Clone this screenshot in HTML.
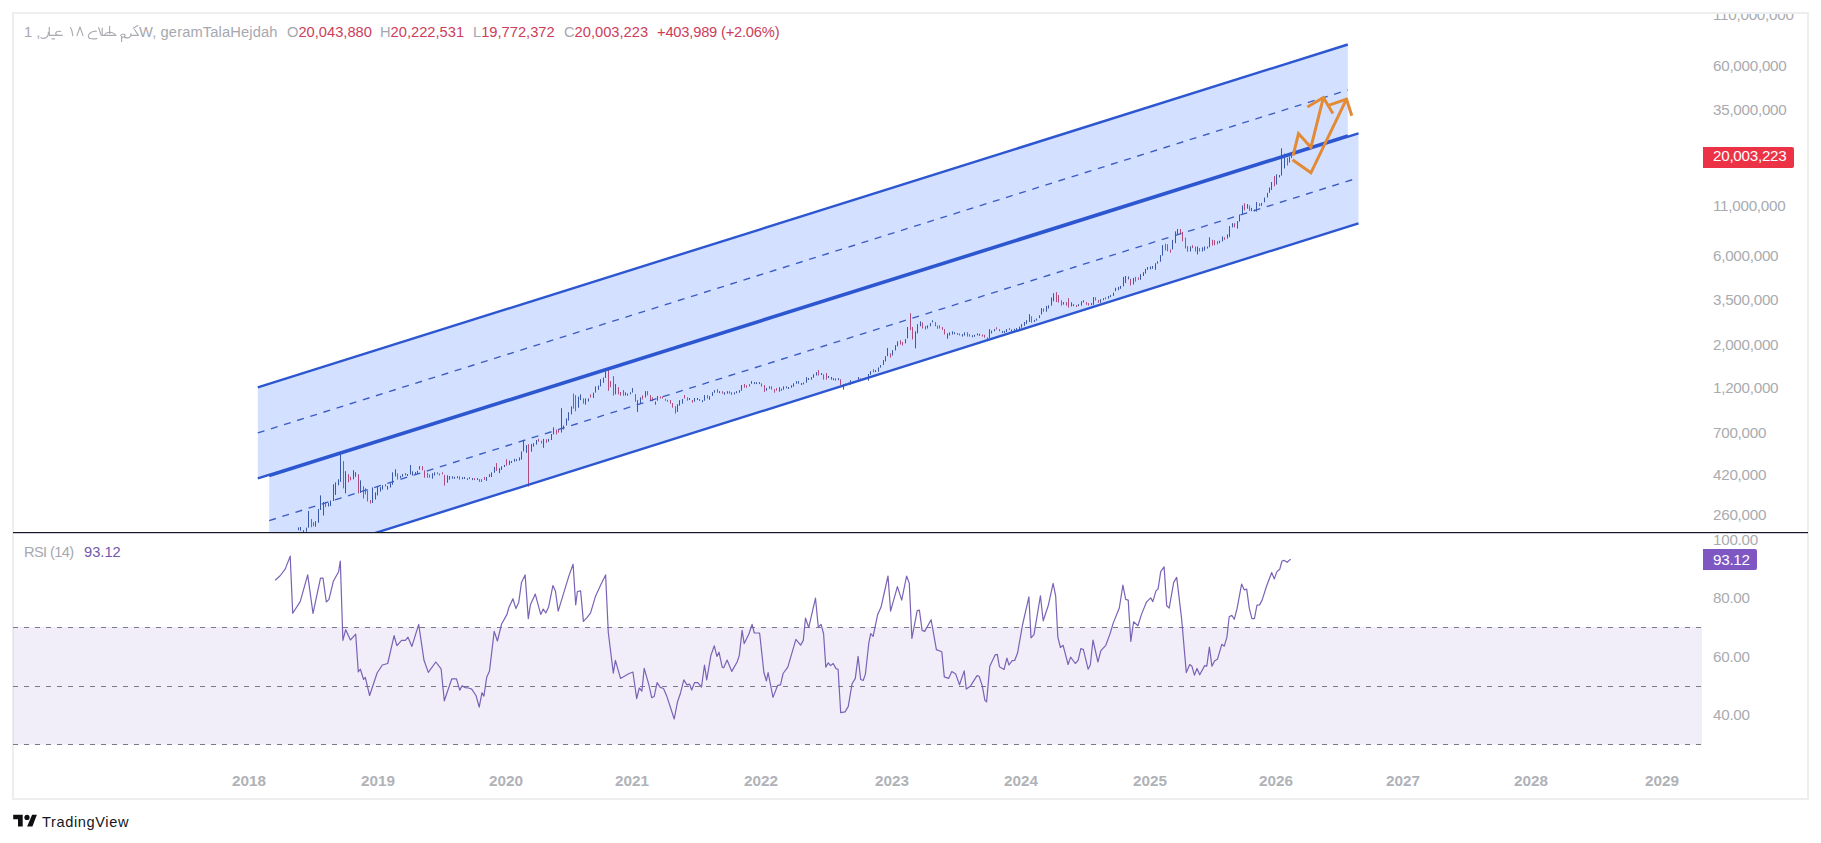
<!DOCTYPE html>
<html><head><meta charset="utf-8">
<style>
html,body{margin:0;padding:0;background:#fff;}
body{width:1821px;height:843px;position:relative;overflow:hidden;font-family:"Liberation Sans",sans-serif;}
.frame{position:absolute;left:12px;top:12px;width:1793px;height:784px;border:2px solid #eeeef1;}
.ch{position:absolute;left:0;top:0;}
.t{position:absolute;white-space:nowrap;font-size:14.7px;line-height:1;}
.g{color:#a6a8ae;}
.r{color:#cc3d5b;}
.ax{position:absolute;white-space:nowrap;font-size:15.2px;letter-spacing:-0.25px;line-height:1;color:#a9abb0;}
.yr{position:absolute;white-space:nowrap;font-size:15.3px;line-height:1;color:#b0b2b7;font-weight:bold;}
.badge{position:absolute;color:#fff;font-size:15.2px;letter-spacing:-0.25px;line-height:1;}
.clip{position:absolute;left:1700px;top:14px;width:107px;height:30px;overflow:hidden;}
</style></head><body>
<div class="frame"></div>

<svg class="ch" width="1821" height="843" viewBox="0 0 1821 843">
<defs>
<clipPath id="cp"><rect x="13" y="13" width="1689" height="519"/></clipPath>
<clipPath id="cr"><rect x="13" y="533" width="1689" height="227"/></clipPath>
</defs>
<g clip-path="url(#cp)">
<path d="M298.5 527.4V530.2M300.5 527.0V530.7M303.5 530.2V532.2M306.5 527.7V531.7M308.5 511.0V527.7M315.5 521.2V526.7M318.5 509.0V522.7M320.5 495.4V510.0M323.5 502.0V515.6M328.5 503.0V506.5M330.5 500.5V506.0M333.5 484.3V501.0M335.5 482.3V495.0M338.5 479.3V485.3M340.5 454.6V481.8M345.5 471.2V493.4M353.5 470.2V479.3M355.5 472.2V476.8M360.5 480.3V492.9M372.5 487.4V503.0M375.5 492.4V499.5M377.5 486.3V495.4M380.5 487.1V491.6M382.5 485.2V489.6M387.5 485.9V489.6M390.5 483.2V487.6M392.5 472.3V484.7M395.5 469.3V476.5M400.5 475.8V478.2M402.5 474.0V476.7M405.5 473.3V475.3M407.5 474.0V476.0M410.5 465.1V474.5M412.5 471.3V475.5M415.5 472.1V474.1M417.5 470.8V473.8M419.5 466.1V469.6M432.5 473.3V478.7M434.5 472.3V475.5M447.5 475.3V482.7M449.5 476.0V479.7M452.5 476.3V478.7M454.5 476.8V478.8M457.5 476.3V478.3M462.5 477.2V479.2M464.5 477.0V479.0M472.5 478.1V480.1M477.5 478.1V480.1M486.5 477.0V480.9M489.5 474.2V477.0M491.5 472.4V477.0M494.5 467.0V472.7M499.5 468.1V473.1M501.5 466.3V469.9M504.5 464.9V467.0M509.5 460.6V464.9M511.5 461.0V463.0M514.5 458.8V461.7M516.5 459.2V461.2M519.5 457.4V460.6M521.5 451.4V459.6M523.5 440.3V451.4M526.5 445.0V452.8M531.5 443.9V451.7M533.5 443.2V446.7M536.5 440.0V444.6M543.5 438.9V447.8M548.5 438.9V441.8M551.5 434.0V440.0M553.5 427.3V434.4M561.5 408.2V432.6M563.5 425.5V429.5M566.5 418.4V425.5M568.5 412.2V420.6M571.5 406.4V414.4M578.5 396.6V407.7M580.5 394.4V400.1M585.5 398.4V404.6M588.5 398.4V401.5M593.5 392.6V397.9M595.5 386.4V392.6M598.5 385.5V389.9M600.5 379.2V386.4M603.5 377.5V382.8M605.5 371.2V377.9M615.5 384.1V394.4M625.5 392.3V395.5M627.5 393.6V395.6M630.5 392.3V394.3M632.5 388.1V392.6M637.5 400.2V411.9M640.5 397.3V403.7M645.5 391.1V397.5M655.5 401.5V404.7M657.5 396.0V400.7M677.5 404.2V411.9M679.5 400.2V405.7M682.5 399.0V403.7M689.5 398.0V400.0M694.5 398.0V401.7M697.5 398.0V400.0M702.5 400.2V402.2M704.5 395.1V400.7M709.5 396.1V399.8M712.5 392.2V395.9M714.5 390.2V392.7M719.5 391.2V393.2M724.5 392.2V394.7M727.5 391.2V393.7M734.5 392.4V394.4M736.5 391.2V393.2M739.5 390.2V392.7M741.5 385.0V390.7M749.5 384.3V386.3M751.5 381.1V383.8M754.5 382.1V384.1M756.5 382.1V384.1M759.5 382.1V384.1M766.5 388.0V390.7M769.5 386.3V388.7M779.5 387.2V391.7M781.5 388.7V390.7M783.5 386.3V389.7M786.5 386.3V388.3M788.5 387.0V389.0M791.5 385.3V387.7M793.5 383.3V386.7M796.5 381.2V383.7M798.5 381.2V383.7M801.5 383.0V385.0M803.5 382.4V384.4M806.5 377.2V382.7M808.5 378.0V380.0M811.5 377.2V379.7M813.5 374.3V377.7M816.5 372.1V375.5M821.5 373.0V375.0M828.5 376.0V378.0M831.5 377.0V379.7M833.5 378.2V380.2M835.5 378.5V380.5M838.5 378.2V380.2M843.5 384.2V389.6M848.5 382.7V384.7M850.5 380.2V384.7M853.5 381.2V383.2M855.5 381.0V383.0M858.5 377.0V379.7M865.5 377.7V379.7M868.5 374.0V380.7M870.5 371.1V374.8M875.5 370.1V372.1M878.5 367.4V371.8M880.5 365.1V367.6M883.5 360.1V365.0M885.5 356.2V361.5M887.5 348.0V356.2M892.5 350.2V355.5M895.5 345.2V350.5M897.5 341.3V346.3M905.5 339.1V343.4M907.5 327.0V338.4M915.5 331.3V348.4M917.5 324.2V333.4M920.5 321.4V326.3M927.5 325.3V328.5M930.5 323.1V326.3M932.5 320.3V322.4M947.5 333.4V338.7M949.5 332.3V335.5M952.5 331.3V334.5M954.5 332.2V334.2M962.5 334.1V336.6M964.5 332.3V335.5M972.5 335.2V337.2M974.5 334.8V336.8M977.5 333.4V335.4M979.5 333.8V335.8M989.5 329.1V338.0M991.5 330.6V333.4M994.5 329.1V331.3M1002.5 330.9V332.9M1004.5 330.9V332.9M1006.5 329.1V332.0M1011.5 329.5V331.5M1014.5 328.8V330.8M1016.5 328.1V330.1M1019.5 326.6V329.1M1021.5 324.1V327.7M1024.5 322.0V325.9M1026.5 320.2V323.8M1029.5 314.2V322.0M1034.5 319.9V321.9M1036.5 318.5V320.6M1039.5 315.2V318.1M1041.5 308.1V314.5M1046.5 306.0V311.7M1048.5 305.3V308.5M1051.5 297.5V305.6M1053.5 293.2V301.4M1063.5 302.1V304.6M1071.5 302.3V306.5M1073.5 304.2V306.2M1078.5 304.2V306.2M1081.5 301.2V305.6M1083.5 300.3V302.4M1091.5 303.1V305.1M1093.5 297.1V304.9M1100.5 299.2V302.8M1103.5 298.2V300.2M1108.5 296.0V298.7M1110.5 295.1V297.1M1113.5 292.6V295.9M1115.5 287.8V291.2M1118.5 286.9V290.2M1120.5 285.9V288.8M1123.5 276.9V286.4M1125.5 276.0V283.1M1128.5 276.5V279.3M1133.5 277.9V284.5M1140.5 274.1V279.8M1143.5 272.2V276.0M1145.5 268.9V273.6M1147.5 267.0V269.8M1150.5 266.5V269.3M1152.5 266.0V268.8M1155.5 263.2V269.8M1157.5 261.3V263.6M1160.5 255.1V261.7M1162.5 245.1V255.6M1172.5 239.9V249.4M1175.5 231.4V243.2M1177.5 229.0V234.2M1190.5 246.5V251.5M1197.5 246.5V254.4M1202.5 247.3V251.5M1204.5 246.5V250.6M1207.5 246.6V248.6M1209.5 237.3V247.3M1219.5 240.7V243.2M1222.5 236.5V241.5M1227.5 234.4V238.6M1229.5 226.1V236.9M1232.5 223.2V227.4M1237.5 221.1V228.6M1239.5 214.5V221.6M1242.5 205.4V214.1M1247.5 204.1V208.7M1251.5 207.9V211.2M1254.5 209.5V211.5M1256.5 202.0V211.6M1261.5 202.9V205.8M1264.5 197.6V202.3M1267.5 192.8V197.6M1269.5 187.5V192.8M1271.5 182.0V190.0M1276.5 174.4V184.5M1279.5 175.0V177.4M1281.5 148.3V175.6M1284.5 153.6V168.5M1289.5 156.6V162.5M1291.5 156.0V158.0" stroke="#3d5594" stroke-width="1" fill="none"/>
<path d="M311.5 519.1V527.2M313.5 522.2V526.2M325.5 502.0V507.0M343.5 461.1V488.4M348.5 474.2V482.3M350.5 476.8V480.3M358.5 474.2V493.4M363.5 486.3V498.5M365.5 488.3V494.4M367.5 490.4V501.5M370.5 500.0V503.5M385.5 484.2V486.6M397.5 473.3V479.7M422.5 466.1V470.3M424.5 470.3V477.7M427.5 472.8V477.7M429.5 474.5V477.7M437.5 472.3V474.3M439.5 473.5V475.5M442.5 472.3V474.3M444.5 474.8V485.6M459.5 476.3V479.7M467.5 478.1V480.1M469.5 477.0V479.1M474.5 478.1V480.1M479.5 479.1V482.0M481.5 479.1V482.0M484.5 477.0V479.9M496.5 463.1V471.0M506.5 459.2V465.6M528.5 444.2V486.6M538.5 438.9V441.8M541.5 440.7V443.5M546.5 439.3V442.8M556.5 429.5V434.4M558.5 429.5V432.6M573.5 393.5V408.6M575.5 395.2V411.3M583.5 398.4V403.7M590.5 394.4V397.5M608.5 369.9V390.8M610.5 381.0V387.2M613.5 376.1V395.7M618.5 387.2V394.4M620.5 392.0V395.7M623.5 390.0V395.7M635.5 394.1V401.7M642.5 395.3V399.5M647.5 391.1V395.3M650.5 395.1V400.7M652.5 397.3V401.2M660.5 396.3V398.5M662.5 396.5V398.5M665.5 398.8V400.8M667.5 399.8V401.8M670.5 400.0V403.7M672.5 403.0V407.7M675.5 406.2V413.6M684.5 395.1V398.5M687.5 397.3V400.7M692.5 400.0V402.7M699.5 399.0V401.0M707.5 395.1V398.5M717.5 389.2V392.7M722.5 391.2V393.7M729.5 391.2V393.7M731.5 392.2V394.9M744.5 384.0V387.7M746.5 385.3V387.7M761.5 383.3V386.7M764.5 385.0V391.9M771.5 386.3V389.7M774.5 389.2V392.7M776.5 388.2V390.7M818.5 370.1V375.5M823.5 374.3V379.7M826.5 373.0V379.7M840.5 379.2V385.2M845.5 383.4V385.4M860.5 378.2V380.2M863.5 378.2V380.2M873.5 369.1V372.3M890.5 353.4V357.6M900.5 340.2V344.5M902.5 342.0V345.5M910.5 313.2V330.2M912.5 327.0V339.5M922.5 322.4V328.5M925.5 326.0V329.5M935.5 322.1V326.3M937.5 325.6V328.8M939.5 325.3V328.5M942.5 327.0V329.9M944.5 329.1V334.5M957.5 333.0V335.0M959.5 333.4V335.5M967.5 332.3V336.6M969.5 334.1V336.6M982.5 334.5V336.5M984.5 334.8V337.7M987.5 337.3V339.3M996.5 327.3V329.5M999.5 329.1V331.3M1009.5 328.1V330.2M1031.5 316.3V322.7M1043.5 308.5V311.7M1056.5 292.1V302.1M1058.5 295.1V302.6M1061.5 300.3V305.6M1066.5 302.1V305.6M1068.5 298.2V307.6M1076.5 305.0V307.0M1086.5 302.1V304.8M1088.5 303.1V305.6M1095.5 297.3V300.5M1098.5 300.1V302.8M1105.5 297.3V299.3M1130.5 278.8V285.5M1135.5 276.9V281.7M1138.5 277.4V279.8M1165.5 243.7V250.4M1167.5 244.2V251.3M1170.5 249.4V252.7M1180.5 229.0V234.2M1182.5 231.9V241.3M1185.5 237.6V248.5M1187.5 246.1V251.8M1192.5 245.2V248.1M1195.5 246.5V251.5M1199.5 248.1V251.5M1212.5 239.8V245.6M1214.5 240.2V245.2M1217.5 241.1V244.4M1224.5 237.3V239.8M1234.5 223.2V227.4M1244.5 203.3V210.3M1249.5 205.4V210.8M1259.5 203.3V206.2M1274.5 176.0V186.3M1287.5 157.8V165.5" stroke="#d2485e" stroke-width="1" fill="none"/>
<polygon points="257.8,387.4 1347.8,44.5 1347.8,135.5 257.8,478.4" fill="rgba(41,98,255,0.2)"/>
<polygon points="269.2,474.8 1358.5,132.2 1358.5,223.3 269.2,566.4" fill="rgba(41,98,255,0.2)"/>
<g stroke="#2d57d0" stroke-width="2.4" fill="none">
<line x1="257.8" y1="387.4" x2="1347.8" y2="44.5"/>
<line x1="257.8" y1="478.4" x2="1347.8" y2="135.5"/>
<line x1="269.2" y1="476.0" x2="1358.5" y2="133.4"/>
<line x1="269.2" y1="566.4" x2="1358.5" y2="223.3"/>
</g>
<g stroke="#3b5cc4" stroke-width="1.35" fill="none" stroke-dasharray="7 6.76">
<line x1="257.8" y1="432.9" x2="1347.8" y2="90"/>
<line x1="269.2" y1="520.6" x2="1358.5" y2="177.75"/>
</g>
<g stroke="#e38a35" stroke-width="3" fill="none" stroke-linejoin="miter" stroke-linecap="butt">
<polyline points="1293.1,155.6 1298.5,133.6 1310.9,147.3 1323.4,97.5"/>
<polyline points="1307.4,107 1323.4,97.5 1332.9,113.5"/>
<polyline points="1292.5,159.7 1310.9,172.8 1346.5,99.2"/>
<polyline points="1329.3,105.2 1346.5,99.2 1351.8,115.8"/>
</g>
</g>
<rect x="13" y="627" width="1689" height="117.5" fill="rgba(126,87,194,0.1)"/>
<g stroke="#787b86" stroke-width="1" stroke-dasharray="5 6">
<line x1="13" y1="627.5" x2="1702" y2="627.5"/>
<line x1="13" y1="686.5" x2="1702" y2="686.5"/>
<line x1="13" y1="744.5" x2="1702" y2="744.5"/>
</g>
<g clip-path="url(#cr)">
<path d="M275.2 580.2 L279.9 576.0 L285.3 568.9 L290.2 556.1 L292.7 613.3 L300.2 601.6 L307.7 574.9 L313.0 613.3 L320.5 578.1 L323.0 578.1 L326.3 602.0 L329.0 599.4 L333.3 581.3 L338.6 571.7 L340.3 561.0 L342.9 640.4 L345.7 629.7 L350.4 640.0 L355.7 634.2 L358.3 672.0 L360.4 669.2 L363.6 679.5 L365.3 677.3 L369.6 695.5 L377.1 673.0 L382.4 665.0 L387.7 663.5 L394.1 635.7 L396.9 645.7 L401.6 640.4 L405.4 640.4 L408.0 637.2 L411.9 646.4 L418.7 624.4 L424.0 660.3 L428.3 672.4 L435.8 662.0 L441.1 668.8 L444.3 700.8 L451.8 678.8 L456.5 678.8 L459.7 690.1 L462.1 685.9 L465.3 687.6 L468.5 688.0 L471.7 689.1 L476.0 695.5 L479.2 707.2 L482.0 692.7 L483.9 696.1 L486.7 677.3 L489.5 670.9 L494.2 631.4 L497.4 641.0 L501.6 624.0 L507.0 614.4 L508.7 608.0 L512.9 598.8 L515.9 608.6 L518.7 602.6 L521.5 582.4 L525.1 574.9 L528.3 618.6 L530.4 604.8 L535.3 594.1 L540.7 614.4 L543.2 609.0 L545.8 612.9 L548.6 606.9 L552.9 585.6 L555.4 590.9 L558.2 611.2 L568.9 575.9 L573.1 564.2 L575.7 604.8 L577.4 591.5 L580.6 590.9 L583.4 621.4 L587.0 617.6 L590.6 612.9 L595.5 596.2 L600.9 584.5 L605.6 574.9 L608.3 632.5 L613.3 673.1 L615.4 660.3 L620.5 678.4 L628.6 673.7 L632.9 672.0 L636.7 698.7 L639.3 688.0 L641.9 691.2 L644.2 668.4 L648.9 684.8 L651.7 697.6 L654.2 696.5 L657.1 682.7 L660.3 687.4 L663.5 688.5 L666.7 695.9 L674.2 719.0 L677.4 702.3 L680.6 692.7 L683.8 679.9 L687.0 684.8 L689.6 684.2 L691.7 690.0 L694.5 682.7 L697.7 682.7 L701.5 687.0 L704.5 665.0 L706.7 679.9 L710.9 655.4 L714.3 645.8 L716.9 656.4 L719.0 652.2 L722.2 667.1 L723.7 667.8 L727.1 660.1 L731.8 671.4 L737.2 661.8 L739.3 655.4 L742.1 630.4 L744.2 643.6 L748.9 634.0 L752.1 624.4 L754.3 633.0 L759.6 633.0 L763.9 672.5 L766.4 681.0 L768.1 672.5 L773.0 697.4 L777.7 685.3 L780.5 684.8 L783.1 673.5 L787.8 667.1 L795.9 639.4 L800.6 645.1 L803.3 640.4 L805.5 618.0 L808.7 627.6 L815.5 598.2 L818.3 627.2 L821.1 624.4 L823.6 634.0 L825.8 667.1 L828.3 662.8 L830.5 665.6 L833.2 663.5 L836.0 668.6 L838.1 669.3 L840.7 712.6 L845.0 711.9 L848.2 706.6 L852.1 683.7 L855.3 678.4 L858.1 656.4 L860.7 679.5 L863.2 680.5 L865.4 674.1 L868.8 643.2 L870.7 633.6 L873.1 636.4 L877.7 614.4 L881.0 607.3 L884.2 593.0 L888.0 576.0 L890.6 611.2 L897.4 586.6 L901.7 600.1 L906.6 576.0 L909.3 583.4 L911.9 638.5 L917.2 610.7 L919.4 610.1 L922.1 630.4 L924.7 631.4 L931.1 619.7 L936.4 649.6 L941.8 651.7 L944.3 676.9 L948.6 678.4 L951.8 671.6 L955.7 674.1 L959.5 684.8 L964.2 670.9 L966.3 689.1 L970.6 685.9 L977.0 675.6 L979.1 676.3 L982.3 685.9 L984.9 700.4 L986.6 701.9 L989.8 666.2 L995.1 654.9 L997.3 654.3 L999.4 666.7 L1004.1 669.4 L1006.9 658.1 L1009.0 665.0 L1012.2 660.7 L1014.8 660.3 L1017.6 652.8 L1022.5 625.0 L1028.9 596.9 L1031.0 637.8 L1034.0 634.6 L1040.4 595.8 L1043.2 620.8 L1048.2 605.8 L1053.1 583.4 L1055.7 596.2 L1057.8 636.8 L1060.4 647.5 L1063.1 645.3 L1068.1 664.5 L1070.6 657.1 L1075.3 663.5 L1078.1 660.3 L1080.9 648.5 L1083.4 649.6 L1088.1 669.2 L1090.3 665.0 L1093.0 640.0 L1097.9 662.0 L1100.9 650.7 L1105.8 645.3 L1110.1 633.6 L1113.3 622.9 L1119.3 608.0 L1122.9 585.1 L1125.7 599.4 L1128.2 600.1 L1130.8 641.5 L1133.6 621.8 L1137.9 625.7 L1141.5 614.4 L1146.4 602.2 L1150.7 597.9 L1152.8 601.6 L1156.0 590.9 L1158.1 588.8 L1160.7 571.7 L1164.1 566.8 L1166.7 605.8 L1169.2 608.0 L1173.7 582.4 L1176.7 577.4 L1181.6 618.6 L1186.3 672.6 L1189.7 664.5 L1191.9 666.2 L1194.4 675.2 L1197.0 668.4 L1199.7 674.8 L1204.7 665.6 L1206.8 666.2 L1209.4 647.0 L1211.9 666.2 L1214.7 660.7 L1217.5 659.2 L1221.8 644.3 L1224.3 646.2 L1226.9 637.2 L1229.2 616.7 L1231.8 615.4 L1234.3 619.3 L1237.1 608.4 L1241.6 584.1 L1244.2 589.8 L1246.7 589.2 L1249.3 608.4 L1251.9 618.6 L1254.4 618.6 L1257.0 605.2 L1259.6 604.9 L1262.1 600.1 L1266.6 586.0 L1271.7 572.5 L1274.3 578.9 L1276.8 571.9 L1279.7 569.3 L1282.0 561.0 L1284.3 560.4 L1287.1 562.3 L1290.7 559.1" stroke="#7a62b6" stroke-width="1.2" fill="none" stroke-linejoin="round"/>
</g>
<rect x="13" y="532" width="1795" height="1.2" fill="#15152a"/>
</svg>
<div class="t g" style="left:24px;top:25px;">1 ,</div>
<svg style="position:absolute;left:0;top:0;" width="160" height="50" viewBox="0 0 160 50">
<g fill="none" stroke="#a9abb0" stroke-width="1.15" stroke-linecap="round" stroke-linejoin="round">
<path d="M41 37.7Q44.6 39.6 47.4 36.4Q48.6 34.5 48.4 32.3"/>
<path d="M49.3 27.3V35.4H62.3"/>
<path d="M60.6 31.4Q56.5 30.6 55.6 33.2Q55.8 35.2 58.5 35.4"/>
<path d="M52 38.8H54.6"/>
<path d="M70.5 27.5Q72.5 31 72.8 35.6"/>
<path d="M77 35.6L80 27L83 35.6"/>
<path d="M96.5 31.2Q92.5 30.8 89.5 33.5Q87.2 36.5 89.5 38.3Q92.5 39.3 96.8 38.6"/>
<path d="M98.6 27.6L101.2 35.4"/>
<path d="M102.2 28V35.4H115.8"/>
<path d="M104.5 35.4Q105.5 32.5 109.5 32.3Q114 32.5 115.8 35.4"/>
<path d="M109.6 26.2V33.5"/>
<path d="M120.6 35.4Q122.3 33.2 124.6 34.4Q125.6 36 123.8 37.2Q121.8 37.5 121.6 36.4V41.5"/>
<path d="M124.6 37.4Q129 38.8 130.6 36.2L131 33.5"/>
<path d="M131 35.4H138.4L134.5 29.5"/>
<path d="M133.2 28.2L137.8 25.6"/>
</g>
</svg>
<div class="t g" style="left:139px;top:25px;letter-spacing:0.12px;">W, geramTalaHejdah</div>
<div class="t" style="left:287px;top:25px;"><span class="g">O</span><span class="r">20,043,880</span></div>
<div class="t" style="left:380px;top:25px;"><span class="g">H</span><span class="r">20,222,531</span></div>
<div class="t" style="left:473px;top:25px;"><span class="g">L</span><span class="r">19,772,372</span></div>
<div class="t" style="left:564px;top:25px;"><span class="g">C</span><span class="r">20,003,223</span></div>
<div class="t r" style="left:657px;top:25px;letter-spacing:-0.2px;">+403,989 (+2.06%)</div>

<div class="clip"><div class="ax" style="left:13px;top:-7px;">110,000,000</div></div>
<div class="ax" style="left:1713px;top:58px;">60,000,000</div>
<div class="ax" style="left:1713px;top:102px;">35,000,000</div>
<div style="position:absolute;left:1703px;top:147px;width:91px;height:21px;background:#ec3346;border-radius:0 2px 2px 0;"></div>
<div class="badge" style="left:1713px;top:147.5px;">20,003,223</div>
<div class="ax" style="left:1713px;top:198px;">11,000,000</div>
<div class="ax" style="left:1713px;top:248px;">6,000,000</div>
<div class="ax" style="left:1713px;top:292px;">3,500,000</div>
<div class="ax" style="left:1713px;top:337px;">2,000,000</div>
<div class="ax" style="left:1713px;top:380px;">1,200,000</div>
<div class="ax" style="left:1713px;top:425px;">700,000</div>
<div class="ax" style="left:1713px;top:467px;">420,000</div>
<div class="ax" style="left:1713px;top:507px;">260,000</div>

<div class="ax" style="left:1713px;top:532px;">100.00</div>
<div style="position:absolute;left:1703px;top:549px;width:54px;height:21px;background:#7e57c2;border-radius:0 2px 2px 0;"></div>
<div class="badge" style="left:1713px;top:552px;">93.12</div>
<div class="ax" style="left:1713px;top:590px;">80.00</div>
<div class="ax" style="left:1713px;top:649px;">60.00</div>
<div class="ax" style="left:1713px;top:707px;">40.00</div>

<div class="t g" style="left:24px;top:545px;letter-spacing:-0.65px;">RSI (14)</div>
<div class="t" style="left:84px;top:545px;color:#6f58ad;">93.12</div>

<div class="yr" style="left:232px;top:773px;">2018</div>
<div class="yr" style="left:361px;top:773px;">2019</div>
<div class="yr" style="left:489px;top:773px;">2020</div>
<div class="yr" style="left:615px;top:773px;">2021</div>
<div class="yr" style="left:744px;top:773px;">2022</div>
<div class="yr" style="left:875px;top:773px;">2023</div>
<div class="yr" style="left:1004px;top:773px;">2024</div>
<div class="yr" style="left:1133px;top:773px;">2025</div>
<div class="yr" style="left:1259px;top:773px;">2026</div>
<div class="yr" style="left:1386px;top:773px;">2027</div>
<div class="yr" style="left:1514px;top:773px;">2028</div>
<div class="yr" style="left:1645px;top:773px;">2029</div>

<svg style="position:absolute;left:12px;top:814px;" width="26" height="14" viewBox="0 0 26 14">
<path d="M1.2 0.8H10.7V12.6H6V5.3H1.2Z" fill="#0f0f12"/>
<circle cx="15" cy="3.4" r="2.6" fill="#0f0f12"/>
<path d="M20.1 0.8H24.9L20.4 12.6H15.1Z" fill="#0f0f12"/>
</svg>
<div class="t" style="left:42px;top:815px;font-size:14.6px;letter-spacing:0.62px;color:#131722;">TradingView</div>
</body></html>
